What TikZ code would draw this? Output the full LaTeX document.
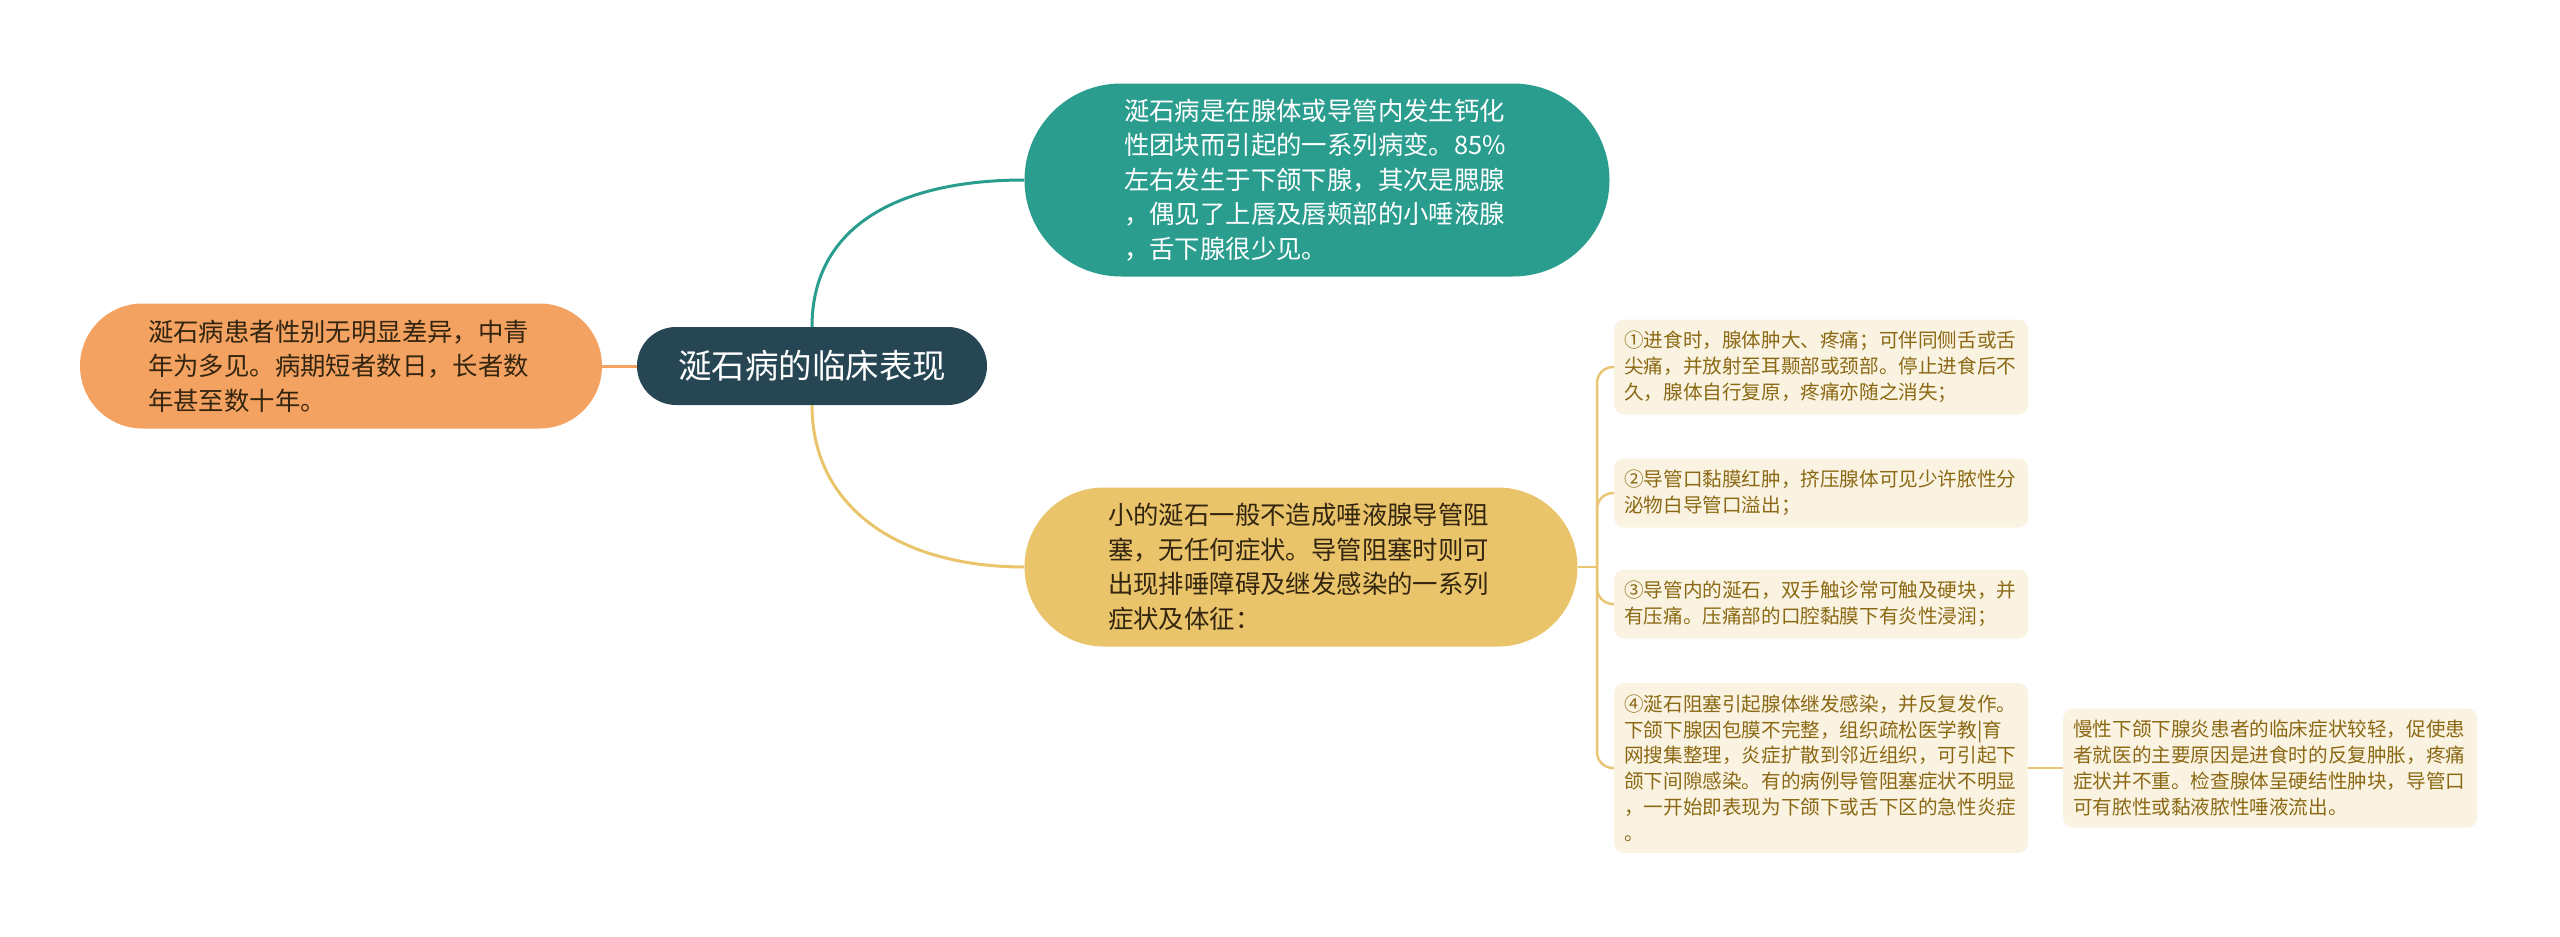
\documentclass[tikz,border=0pt]{standalone}
\usepackage{fontspec}
\setmainfont{Noto Sans CJK SC}
\usepackage{xcolor}
\usepackage{tikz}
\usetikzlibrary{shapes.misc}

\definecolor{rootfill}{HTML}{264653}
\definecolor{tealfill}{HTML}{2A9D8F}
\definecolor{orangefill}{HTML}{F4A261}
\definecolor{yellowfill}{HTML}{E9C46A}
\definecolor{leaffill}{HTML}{FBF3E2}
\definecolor{leaftext}{HTML}{8B6914}
\definecolor{darktext}{HTML}{33250F}
\definecolor{twigcol}{HTML}{E8C675}

\begin{document}
\begin{tikzpicture}[
x=1pt, y=-1pt,
topic/.style={shape=rounded rectangle, inner sep=0pt, align=left, text width=386pt, font=\fontsize{25.4}{34.5}\selectfont},
leaf/.style={shape=rectangle, rounded corners=10pt, fill=leaffill, text=leaftext, inner xsep=10pt, inner ysep=0pt, align=left, text width=394pt, anchor=west, font=\fontsize{19.6}{25.8}\selectfont},
link/.style={line width=3pt},
twig/.style={line width=2.5pt, draw=twigcol, rounded corners=16pt}
]
\useasboundingbox (0,0) rectangle (2560,937);

\node (root) at (812,366) [shape=rounded rectangle, inner sep=0pt, fill=rootfill, text=white, minimum width=350pt, minimum height=78pt, font=\fontsize{33.5}{40}\selectfont] {涎石病的临床表现};

\node (age) at (341,366) [topic, fill=orangefill, text=darktext, minimum width=522pt, minimum height=125pt] {涎石病患者性别无明显差异，中青\\年为多见。病期短者数日，长者数\\年甚至数十年。};

\node (define) at (1317,180) [topic, fill=tealfill, text=white, minimum width=585pt, minimum height=193pt] {涎石病是在腺体或导管内发生钙化\\性团块而引起的一系列病变。85\%\\左右发生于下颌下腺，其次是腮腺\\，偶见了上唇及唇颊部的小唾液腺\\，舌下腺很少见。};

\node (symptom) at (1301,567) [topic, fill=yellowfill, text=darktext, minimum width=553pt, minimum height=159pt] {小的涎石一般不造成唾液腺导管阻\\塞，无任何症状。导管阻塞时则可\\出现排唾障碍及继发感染的一系列\\症状及体征：};

\node (sign1) at (1614,367) [leaf, minimum height=95pt] {①进食时，腺体肿大、疼痛；可伴同侧舌或舌\\尖痛，并放射至耳颞部或颈部。停止进食后不\\久，腺体自行复原，疼痛亦随之消失；};
\node (sign2) at (1614,493) [leaf, minimum height=69pt] {②导管口黏膜红肿，挤压腺体可见少许脓性分\\泌物白导管口溢出；};
\node (sign3) at (1614,604) [leaf, minimum height=69pt] {③导管内的涎石，双手触诊常可触及硬块，并\\有压痛。压痛部的口腔黏膜下有炎性浸润；};
\node (sign4) at (1614,768) [leaf, minimum height=170pt] {④涎石阻塞引起腺体继发感染，并反复发作。\\下颌下腺因包膜不完整，组织疏松医学教|育\\网搜集整理，炎症扩散到邻近组织，可引起下\\颌下间隙感染。有的病例导管阻塞症状不明显\\，一开始即表现为下颌下或舌下区的急性炎症\\。};
\node (chronic) at (2063,768) [leaf, minimum height=119pt] {慢性下颌下腺炎患者的临床症状较轻，促使患\\者就医的主要原因是进食时的反复肿胀，疼痛\\症状并不重。检查腺体呈硬结性肿块，导管口\\可有脓性或黏液脓性唾液流出。};

\coordinate (hub) at (1597,567);

\draw [link, draw=orangefill] (age.east) -- (root.west);
\draw [link, draw=tealfill] (root.north) .. controls (812,225) and (900,180) .. (define.west);
\draw [link, draw=yellowfill] (root.south) .. controls (812,508) and (900,567) .. (symptom.west);
\draw [twig, rounded corners=0pt] (symptom.east) -- (hub);
\draw [twig] (hub) |- (sign1.west);
\draw [twig] (hub) |- (sign2.west);
\draw [twig] (hub) |- (sign3.west);
\draw [twig] (hub) |- (sign4.west);
\draw [twig] (sign4.east) -- (chronic.west);
\end{tikzpicture}
\end{document}
